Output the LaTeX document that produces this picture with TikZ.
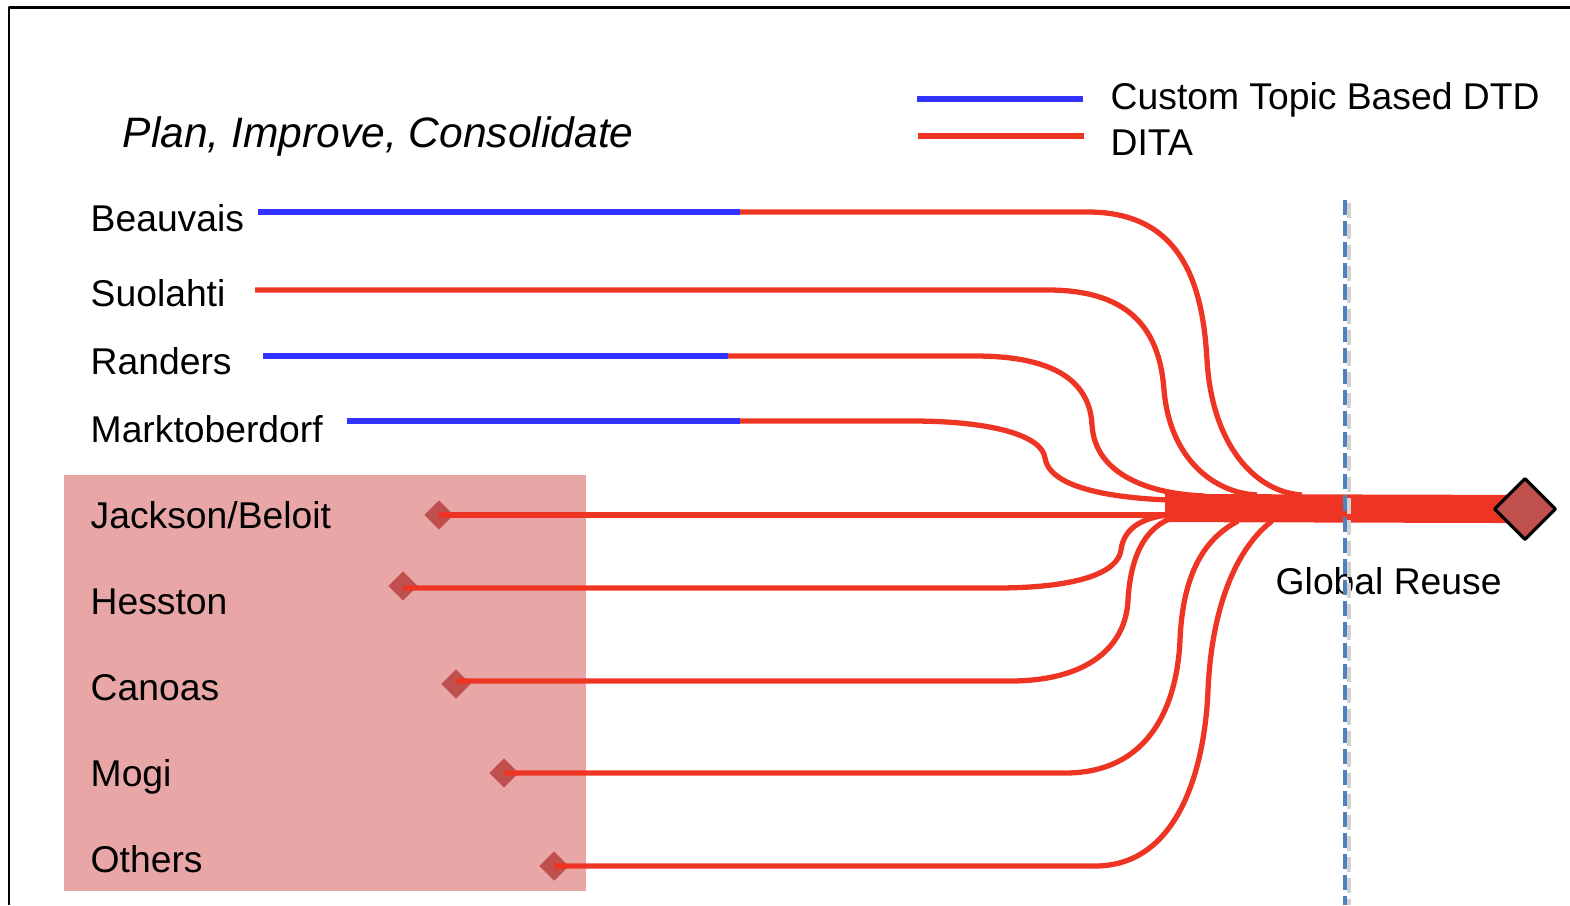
\documentclass[tikz,border=0pt]{standalone}
\usepackage{fontspec}
\setmainfont{Liberation Sans}
\usetikzlibrary{shapes.geometric}
\definecolor{ditared}{RGB}{238,53,36}
\definecolor{dtdblue}{RGB}{51,51,255}
\definecolor{boxpink}{RGB}{232,166,166}
\definecolor{plantred}{RGB}{192,80,77}
\definecolor{reuseblue}{RGB}{79,129,189}
\tikzset{
  site/.style={anchor=base west, inner sep=0pt},
  dtdline/.style={draw=dtdblue, line width=1.5pt},
  ditaline/.style={draw=ditared, line width=1.5pt},
  plantdot/.style={diamond, fill=plantred, minimum width=0.3cm, minimum height=0.3cm, inner sep=0pt},
  reusedot/.style={diamond, fill=plantred, draw=black, line width=0.9pt, minimum width=0.62cm, minimum height=0.62cm, inner sep=0pt}
}
\begin{document}
\begin{tikzpicture}[x=0.01cm, y=-0.01cm, line join=round, font=\fontsize{10.6}{12}\selectfont]
\useasboundingbox (0,0) rectangle (1570,905);
\draw[line width=0.85pt] (9,905) -- (9,7) -- (1570,7);
\fill[boxpink] (64,475) rectangle (586,891);
% legend
\node[anchor=base west, inner sep=0pt, font=\fontsize{12.1}{14}\selectfont\itshape] (title) at (122,147) {Plan, Improve, Consolidate};
\coordinate (lg1a) at (917,99); \coordinate (lg1b) at (1083,99);
\coordinate (lg2a) at (918,136); \coordinate (lg2b) at (1084,136);
\draw[dtdline] (lg1a) -- (lg1b);
\draw[ditaline] (lg2a) -- (lg2b);
\node[site] (lgdtd) at (1110,109) {Custom Topic Based DTD};
\node[site] (lgdita) at (1110,155) {DITA};
% sites
\node[site] (beauvais) at (90,231) {Beauvais};
\node[site] (suolahti) at (90,306) {Suolahti};
\node[site] (randers) at (90,374) {Randers};
\node[site] (markt) at (90,442) {Marktoberdorf};
\node[site] (jackson) at (90,528) {Jackson/Beloit};
\node[site] (hesston) at (90,614) {Hesston};
\node[site] (canoas) at (90,700) {Canoas};
\node[site] (mogi) at (90,786) {Mogi};
\node[site] (others) at (90,872) {Others};
\node[plantdot] (djackson) at (439,515) {};
\node[plantdot] (dhesston) at (403,586) {};
\node[plantdot] (dcanoas) at (456,684) {};
\node[plantdot] (dmogi) at (504,773) {};
\node[plantdot] (dothers) at (554,866) {};
% global reuse bar
\coordinate (hub) at (1165,508);
\coordinate (reusept) at (1525,509);
\draw[ditared, line width=8pt] (hub) -- (reusept);
\node[reusedot] (reuse) at (reusept) {};
\node[site] (reuselabel) at (1275,594) {Global Reuse};
% DTD first, then DITA
\coordinate (b0) at (258,212); \coordinate (b1) at (740,212); \coordinate (b2) at (1088,212);
\draw[dtdline] (b0) -- (b1);
\draw[ditaline] (b1) -- (b2) .. controls (1185,212) and (1203,290) .. (1207,360)
  .. controls (1212,445) and (1255,492) .. (1302,495);
\coordinate (s0) at (255,290); \coordinate (s1) at (1048,290);
\draw[ditaline] (s0) -- (s1) .. controls (1135,290) and (1160,335) .. (1164,390)
  .. controls (1170,460) and (1215,493) .. (1257,495);
\coordinate (r0) at (263,356); \coordinate (r1) at (728,356); \coordinate (r2) at (975,356);
\draw[dtdline] (r0) -- (r1);
\draw[ditaline] (r1) -- (r2) .. controls (1060,356) and (1090,385) .. (1092,425)
  .. controls (1095,475) and (1150,494) .. (1205,496);
\coordinate (m0) at (347,421); \coordinate (m1) at (740,421); \coordinate (m2) at (912,421);
\draw[dtdline] (m0) -- (m1);
\draw[ditaline] (m1) -- (m2) .. controls (990,421) and (1042,435) .. (1045,458)
  .. controls (1050,490) and (1120,498) .. (1168,500);
% DITA from the start
\draw[ditaline] (djackson.center) -- (hub |- djackson);
\coordinate (h1) at (995,588);
\draw[ditaline] (dhesston.center |- h1) -- (h1) .. controls (1080,588) and (1118,572) .. (1121,550)
  .. controls (1124,525) and (1148,517) .. (1168,515);
\coordinate (c1) at (1010,681);
\draw[ditaline] (dcanoas.center |- c1) -- (c1) .. controls (1090,681) and (1126,645) .. (1128,600)
  .. controls (1131,548) and (1150,526) .. (1172,518);
\coordinate (g1) at (1065,773);
\draw[ditaline] (dmogi.center) -- (g1) .. controls (1150,773) and (1177,705) .. (1180,640)
  .. controls (1183,568) and (1208,537) .. (1238,521);
\coordinate (o1) at (1095,866);
\draw[ditaline] (dothers.center) -- (o1) .. controls (1180,866) and (1205,765) .. (1208,690)
  .. controls (1212,600) and (1240,545) .. (1272,521);
% cut-over line
\draw[gray!35, line width=1.4pt, dash pattern=on 4.3pt off 1.7pt] (1349,203) -- (1349,905);
\draw[reuseblue, line width=1.4pt, dash pattern=on 4.3pt off 1.7pt] (1345,200) -- (1345,905);
\end{tikzpicture}
\end{document}
